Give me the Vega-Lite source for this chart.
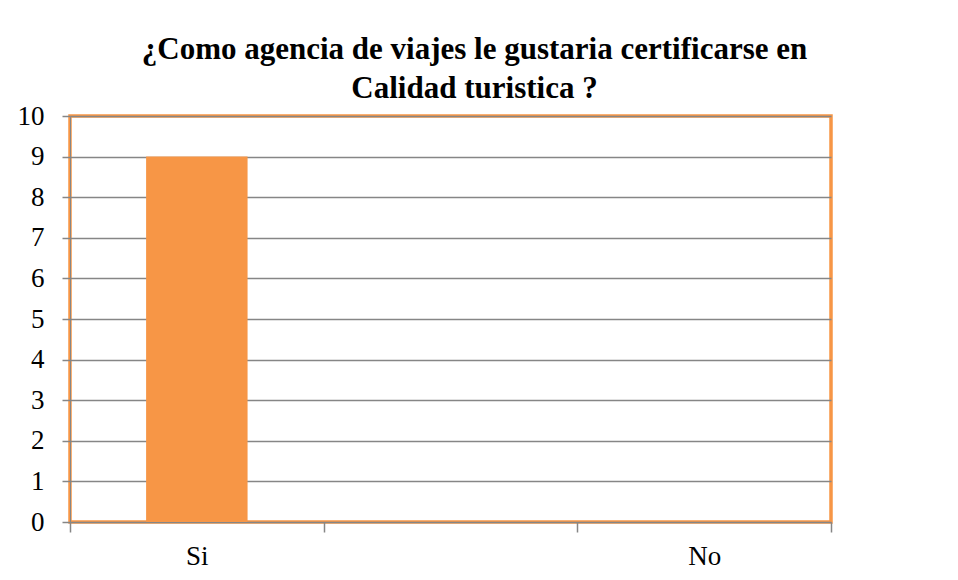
{
  "$schema": "https://vega.github.io/schema/vega-lite/v6.json",
  "width": 761,
  "height": 406,
  "autosize": {"type": "none"},
  "padding": {"left": 70, "top": 116, "right": 127, "bottom": 58},
  "background": "white",
  "title": {
    "text": ["¿Como agencia de viajes le gustaria certificarse en", "Calidad turistica ?"]
  },
  "data": {"values": [
    {"respuesta": "Si", "cantidad": 9},
    {"respuesta": "No", "cantidad": 0}
  ]},
  "mark": {"type": "bar", "color": "#F79646", "width": {"band": 0.4}},
  "encoding": {
    "x": {
      "field": "respuesta",
      "type": "nominal",
      "scale": {"domain": ["Si", " ", "No"], "paddingInner": 0, "paddingOuter": 0},
      "axis": {
        "title": null,
        "labelAngle": 0,
        "tickBand": "extent",
        "labelFont": "Liberation Serif",
        "labelFontSize": 27,
        "labelColor": "black",
        "labelPadding": 11,
        "tickSize": 10,
        "tickColor": "#868686",
        "tickWidth": 1.5,
        "domainColor": "#868686",
        "grid": false
      }
    },
    "y": {
      "field": "cantidad",
      "type": "quantitative",
      "scale": {"domain": [0, 10], "nice": false},
      "axis": {
        "title": null,
        "values": [0, 1, 2, 3, 4, 5, 6, 7, 8, 9, 10],
        "labelFont": "Liberation Serif",
        "labelFontSize": 27,
        "labelColor": "black",
        "labelPadding": 18,
        "tickSize": 8,
        "tickColor": "#868686",
        "tickWidth": 1.5,
        "domainColor": "#868686",
        "gridColor": "#868686",
        "gridWidth": 1.5,
        "gridOpacity": 1
      }
    }
  },
  "config": {
    "view": {"stroke": "#F79646", "strokeWidth": 3.5},
    "title": {
      "font": "Liberation Serif",
      "fontSize": 31,
      "fontWeight": "bold",
      "color": "black",
      "anchor": "middle",
      "lineHeight": 39,
      "dx": 24,
      "offset": 12,
      "dy": 15
    }
  }
}
